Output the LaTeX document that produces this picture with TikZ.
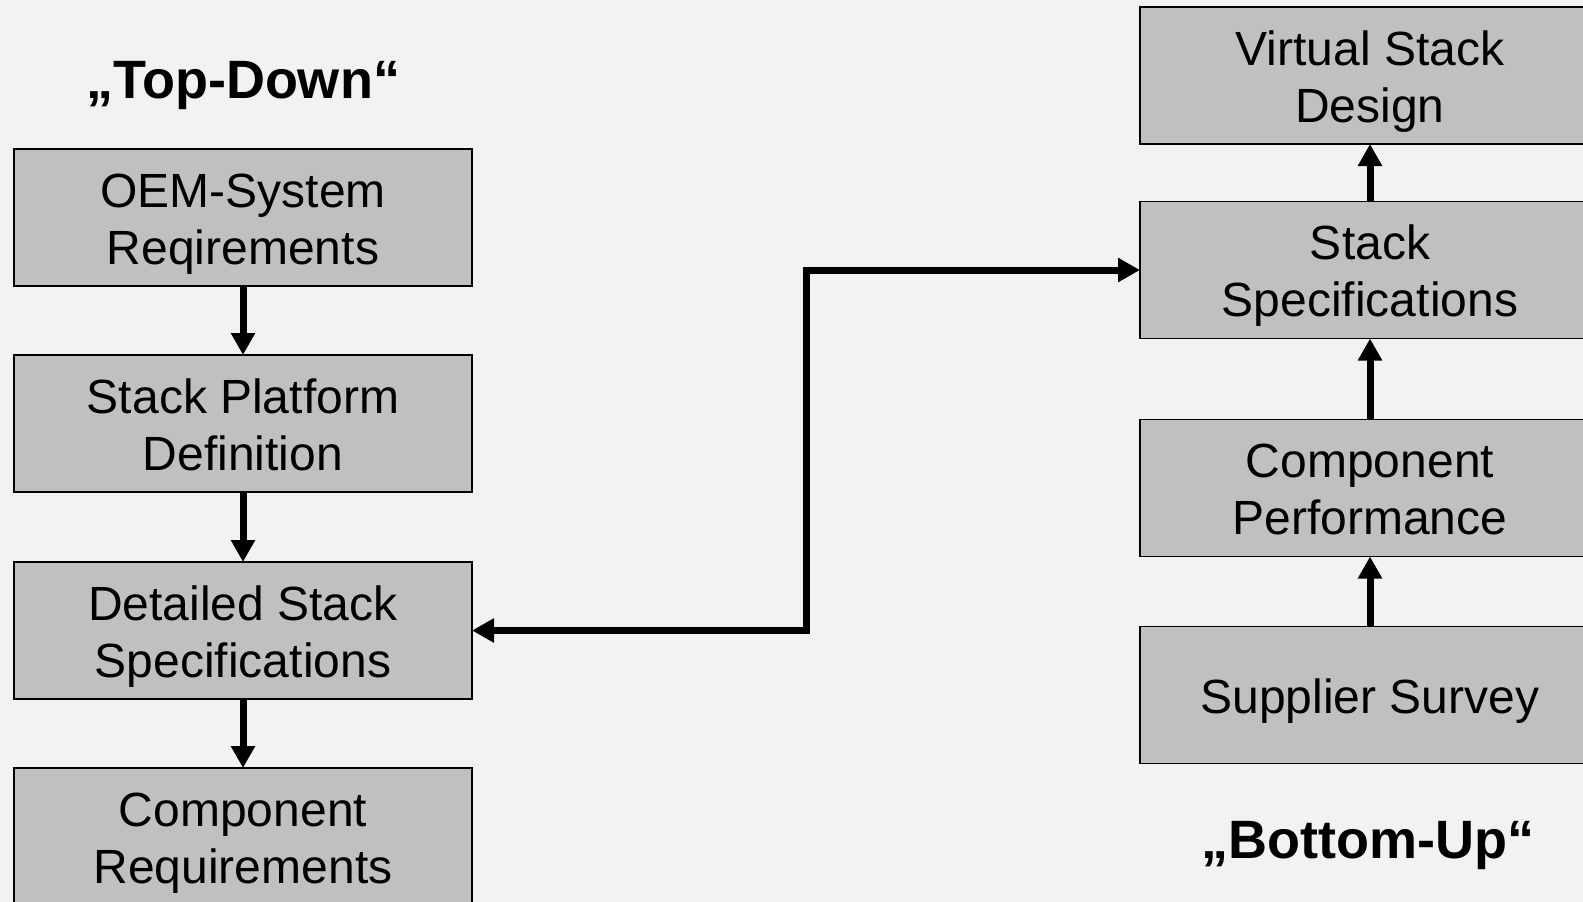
\documentclass[tikz,border=0pt]{standalone}
\usepackage{fontspec}
\setmainfont{Liberation Sans}
\usetikzlibrary{arrows.meta}

\definecolor{fond}{HTML}{F2F2F2}
\definecolor{kasten}{HTML}{C0C0C0}

% Zeilenstützen
\newcommand{\haut}{\rule{0pt}{46pt}}
\newcommand{\bas}{\rule[-10pt]{0pt}{10pt}}

\tikzset{
box/.style={draw,fill=kasten,line width=1.5pt,
minimum width=458pt,minimum height=137pt,
inner sep=0pt,outer sep=0pt,align=center,
font=\fontsize{48}{57}\selectfont},
fleche/.style={line width=7pt,-{Triangle[width=23pt,length=22pt]}},
doublefleche/.style={line width=7pt,
{Triangle[width=23pt,length=22pt]}-{Triangle[width=23pt,length=22pt]}},
titre/.style={anchor=base,font=\fontsize{54}{60}\selectfont\bfseries}
}

\begin{document}
\begin{tikzpicture}[x=1pt,y=1pt]

% Hintergrund
\path[use as bounding box,fill=fond] (0,0) rectangle (1583,-902);
\clip (0,0) rectangle (1583,-902);

% Top-Down
\node[titre] (TD) at (243,-98) {„Top-Down“};

\node[box] (OEM) at (243,-217.5) {\haut OEM-System\\Reqirements\bas};
\node[box] (SPD) at (243,-423.5) {\haut Stack Platform\\Definition\bas};
\node[box] (DSS) at (243,-630.5) {\haut Detailed Stack\\Specifications\bas};
\node[box] (CR) at (243,-836.5) {\haut Component\\Requirements\bas};

\draw[fleche] (OEM) -- (SPD);
\draw[fleche] (SPD) -- (DSS);
\draw[fleche] (DSS) -- (CR);

% Bottom-Up
\node[box,minimum width=460pt] (VSD) at (1370,-75.5) {\haut Virtual Stack\\Design\bas};
\node[box,minimum width=460pt] (SS) at (1370,-270) {\haut Stack\\Specifications\bas};
\node[box,minimum width=460pt] (CP) at (1370,-488) {\haut Component\\Performance\bas};
\node[box,minimum width=460pt] (SU) at (1370,-695) {\haut Supplier Survey\bas};

\node[titre] (BU) at (1368,-858) {„Bottom-Up“};

\draw[fleche] (SU) -- (CP);
\draw[fleche] (CP) -- (SS);
\draw[fleche] (SS) -- (VSD);

% Verbindung
\coordinate (coude) at (806,-450);
\draw[doublefleche] (DSS.east) -| (coude) |- (SS.west);

\end{tikzpicture}
\end{document}
